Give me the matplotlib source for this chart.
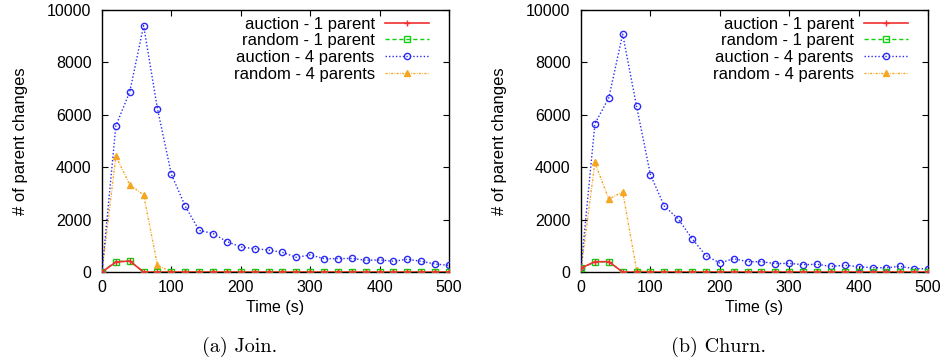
import matplotlib
matplotlib.use('Agg')
import matplotlib.pyplot as plt

time = list(range(0, 501, 20))

# (a) Join
join_auction1 = [0, 380, 420] + [0] * 23
join_random1 = [0, 400, 420] + [0] * 23
join_auction4 = [0, 5580, 6880, 9400, 6220, 3730, 2510, 1590, 1470, 1160, 955, 890,
                 840, 750, 560, 650, 510, 510, 520, 450, 460, 410, 485, 410, 305, 255]
join_random4 = [0, 4420, 3330, 2940, 255] + [0] * 21

# (b) Churn
churn_auction1 = [150, 395, 395] + [0] * 23
churn_random1 = [150, 380, 390] + [0] * 23
churn_auction4 = [150, 5660, 6650, 9080, 6330, 3710, 2520, 2025, 1275, 625, 345, 510,
                  395, 395, 320, 330, 280, 295, 215, 255, 205, 165, 165, 215, 125, 125]
churn_random4 = [100, 4180, 2780, 3060, 90] + [0] * 21

labels = ['auction - 1 parent', 'random - 1 parent', 'auction - 4 parents', 'random - 4 parents']
captions = ['(a) Join.', '(b) Churn.']

plt.rcParams['font.family'] = ['Liberation Sans', 'DejaVu Sans']

fig = plt.figure(figsize=(9.46, 3.64), dpi=100)
ax1 = fig.add_axes([0.1078, 0.2527, 0.3668, 0.7198])
ax2 = fig.add_axes([0.6142, 0.2527, 0.3668, 0.7198])

panels = [
    (ax1, join_auction1, join_random1, join_auction4, join_random4, captions[0], 0.2537),
    (ax2, churn_auction1, churn_random1, churn_auction4, churn_random4, captions[1], 0.759),
]

for ax, a1, r1, a4, r4, cap, cx in panels:
    ax.plot(time, a4, color='#2a2af5', lw=1, ls=(0, (1, 1.5)), marker='o', ms=4.5,
            mfc='none', mew=1, label=labels[2], zorder=3)
    ax.plot(time, r4, color='#f5a623', lw=1, ls=(0, (1.5, 1, 0.5, 1)), marker='^', ms=4.5,
            label=labels[3], zorder=2)
    ax.plot(time, r1, color='#10d010', lw=1, ls=(0, (3, 2)), marker='s', ms=4,
            mfc='none', mew=1, label=labels[1], zorder=4)
    ax.plot(time, a1, color='#f03030', lw=1.2, marker='+', ms=4, mew=1, label=labels[0], zorder=5)

    ax.set_xlim(0, 500)
    ax.set_ylim(0, 10000)
    ax.set_xticks(range(0, 501, 100))
    ax.set_yticks(range(0, 10001, 2000))
    ax.tick_params(direction='in', top=True, right=True, length=4, labelsize=11.5)
    ax.tick_params(axis='x', pad=6)
    ax.tick_params(axis='y', pad=7.5)
    for s in ax.spines.values():
        s.set_linewidth(1)
    ax.set_xlabel('Time (s)', fontsize=11.5, labelpad=3)
    ax.set_ylabel('# of parent changes', fontsize=12, labelpad=14)

    handles, labs = ax.get_legend_handles_labels()
    order = [3, 2, 0, 1]
    ax.legend([handles[i] for i in order], [labs[i] for i in order],
              loc='upper right', bbox_to_anchor=(0.942, 0.975), frameon=False,
              markerfirst=False, fontsize=12, handlelength=2.65, handletextpad=0.6,
              labelspacing=0.1, borderpad=0, borderaxespad=0)

    fig.text(cx, 0.0467, cap, ha='center', va='center',
             fontsize=14.5, family=['cmr10', 'DejaVu Serif'])

fig.savefig('out.png', dpi=100)
